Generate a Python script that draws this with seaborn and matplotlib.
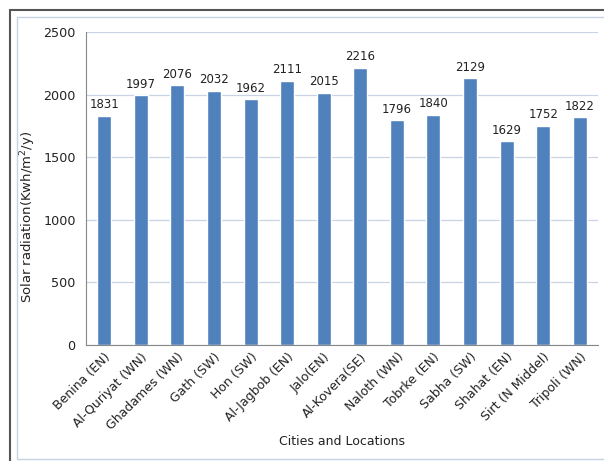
import matplotlib
matplotlib.use("Agg")
import matplotlib.pyplot as plt
import seaborn as sns
import pandas as pd
from matplotlib.patches import Rectangle

cities = ["Benina (EN)", "Al-Quriyat (WN)", "Ghadames (WN)", "Gath (SW)", "Hon (SW)",
          "Al-Jagbob (EN)", "Jalo(EN)", "Al-Kovera(SE)", "Naloth (WN)", "Tobrke (EN)",
          "Sabha (SW)", "Shahat (EN)", "Sirt (N Middel)", "Tripoli (WN)"]
radiation = [1831, 1997, 2076, 2032, 1962, 2111, 2015, 2216, 1796, 1840, 2129, 1629, 1752, 1822]

df = pd.DataFrame({"city": cities, "rad": radiation})

sns.set_theme(style="white")
plt.rcParams['font.family'] = ['DejaVu Sans']

fig = plt.figure(figsize=(6.04, 4.61), dpi=100)
ax = fig.add_axes([86/604, 1 - 345/461, 512/604, 313/461])

sns.barplot(data=df, x="city", y="rad", color="#4F81BD", width=0.38, ax=ax, saturation=1)

ax.set_ylim(0, 2500)
ax.set_yticks([0, 500, 1000, 1500, 2000, 2500])
ax.yaxis.grid(True, color="#C8D3E3", linewidth=0.9)
ax.set_axisbelow(True)
for s in ["top", "right"]:
    ax.spines[s].set_visible(False)
ax.spines["left"].set_color("#888888")
ax.spines["bottom"].set_color("#888888")
ax.spines["left"].set_linewidth(0.8)
ax.spines["bottom"].set_linewidth(0.8)
ax.tick_params(axis="both", colors="#222222", length=4, direction="out")
ax.tick_params(axis="y", labelsize=9.2, color="#888888")
ax.tick_params(axis="x", labelsize=9)
ax.set_xlim(-0.5, len(cities) - 0.5)
ax.set_xticks([i - 0.5 for i in range(len(cities) + 1)], minor=True)
ax.tick_params(axis="x", which="major", length=0, pad=4)
ax.tick_params(axis="x", which="minor", length=4, color="#888888")
plt.setp(ax.get_xticklabels(), rotation=45, ha="right", rotation_mode="anchor")

ax.set_xlabel("Cities and Locations", fontsize=9, color="#222222", labelpad=2)
ax.set_ylabel("Solar radiation(Kwh/m$^2$/y)", fontsize=9.5, color="#222222")
ax.yaxis.set_label_coords(-0.093, 0.41)

for i, v in enumerate(radiation):
    ax.text(i, v + 35, str(v), ha="center", va="bottom", fontsize=8.5, color="#222222")

# outer frame
fig.patches.append(Rectangle((10/604, -0.05), 1.0, 1 - 10/461 + 0.05, transform=fig.transFigure,
                             fill=False, edgecolor="#555555", linewidth=1.5))
fig.patches.append(Rectangle((17/604, 2/461), 1.0, 1 - 19/461, transform=fig.transFigure,
                             fill=False, edgecolor="#C5D3E5", linewidth=1.0))

fig.savefig("out.png", dpi=100)
